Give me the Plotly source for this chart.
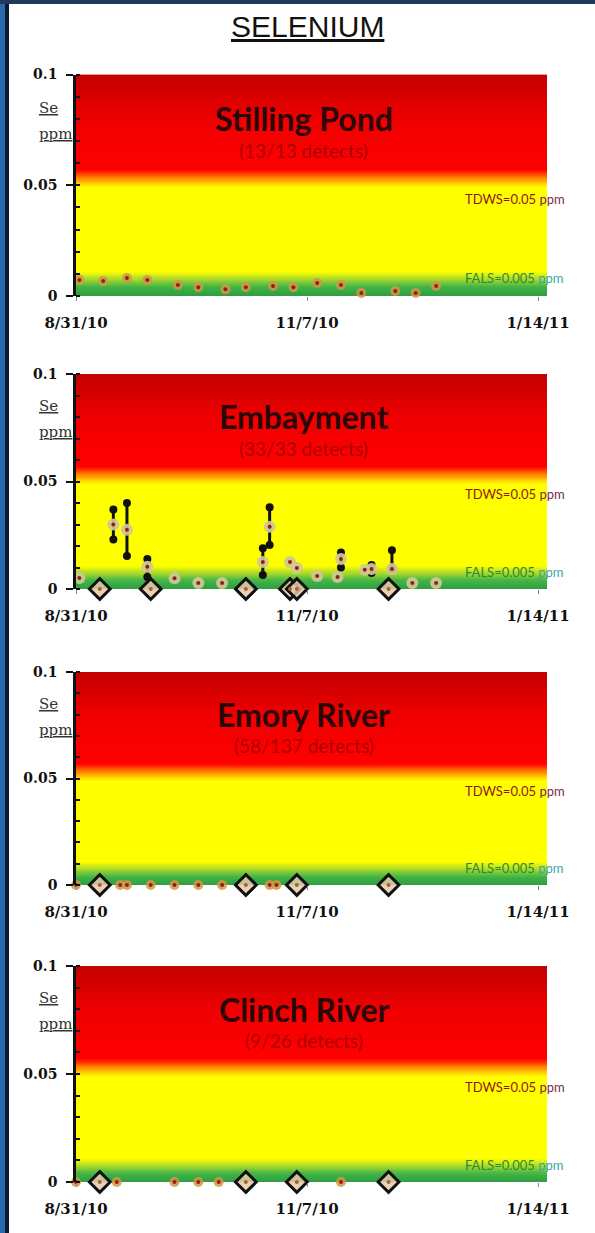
import numpy as np
import plotly.graph_objects as go

# ---- Se results (ppm) by location ----
pond_dates = ['2010-09-01', '2010-09-08', '2010-09-15', '2010-09-21', '2010-09-30', '2010-10-06',
              '2010-10-14', '2010-10-20', '2010-10-28', '2010-11-03', '2010-11-10', '2010-11-17',
              '2010-11-23', '2010-12-03', '2010-12-09', '2010-12-15']
pond_se = [0.0072, 0.0068, 0.0081, 0.0072, 0.0050, 0.0040, 0.0030, 0.0040, 0.0045, 0.0040,
           0.0059, 0.0050, 0.0014, 0.0023, 0.0014, 0.0045]

emb_dates = ['2010-09-01', '2010-09-11', '2010-09-15', '2010-09-21', '2010-09-29', '2010-10-06',
             '2010-10-13', '2010-10-25', '2010-10-27', '2010-11-02', '2010-11-04', '2010-11-10',
             '2010-11-16', '2010-11-17', '2010-11-24', '2010-11-26', '2010-12-02', '2010-12-08',
             '2010-12-15']
emb_se = [0.0051, 0.0300, 0.0276, 0.0103, 0.0050, 0.0028, 0.0028, 0.0126, 0.0290, 0.0126,
          0.0098, 0.0060, 0.0056, 0.0140, 0.0089, 0.0093, 0.0093, 0.0028, 0.0028]
emb_range_dates = ['2010-09-11', '2010-09-15', '2010-09-21', '2010-10-25', '2010-10-27',
                   '2010-11-17', '2010-11-26', '2010-12-02']
emb_min = [0.0230, 0.0154, 0.0056, 0.0065, 0.0205, 0.0100, 0.0075, 0.0093]
emb_max = [0.0370, 0.0400, 0.0140, 0.0190, 0.0380, 0.0170, 0.0112, 0.0180]
emb_nd_dates = ['2010-09-07', '2010-09-22', '2010-10-20', '2010-11-02', '2010-11-04', '2010-12-01']
emb_nd = [0, 0, 0, 0, 0, 0]

emory_dates = ['2010-08-31', '2010-09-13', '2010-09-15', '2010-09-22', '2010-09-29', '2010-10-06',
               '2010-10-13', '2010-10-27', '2010-10-29']
emory_se = [0, 0, 0, 0, 0, 0, 0, 0, 0]
emory_nd_dates = ['2010-09-07', '2010-10-20', '2010-11-04', '2010-12-01']
emory_nd = [0, 0, 0, 0]

clinch_dates = ['2010-08-31', '2010-09-12', '2010-09-29', '2010-10-06', '2010-10-12', '2010-11-17']
clinch_se = [0, 0, 0, 0, 0, 0]
clinch_nd_dates = ['2010-09-07', '2010-10-20', '2010-11-04', '2010-12-01']
clinch_nd = [0, 0, 0, 0]

panel_names = ['Stilling Pond', 'Embayment', 'Emory River', 'Clinch River']
panel_counts = ['(13/13 detects)', '(33/33 detects)', '(58/137 detects)', '(9/26 detects)']

tick_dates = ['2010-08-31', '2010-11-07', '2011-01-14']
tick_text = ['8/31/10', '11/7/10', '1/14/11']

# ---- layout geometry (pixels on a 595 x 1233 page) ----
W, H = 595, 1233
panel_px = [(74.5, 296), (374, 589), (672, 885), (966, 1182)]
x_dom = [76 / W, 547 / W]
x_range = ['2010-08-31', '2011-01-16 15:30']

fig = go.Figure()

# background band: red above the TDWS, yellow between, green toward the FALS
band_stops = [(0.000, '#2e9c40'), (0.004, '#40b446'), (0.0075, '#a8d82c'), (0.011, '#ffff00'),
              (0.049, '#ffff00'), (0.053, '#ff8c00'), (0.057, '#ff0000'), (0.080, '#ef0000'),
              (0.100, '#c20000')]
band_scale = [[v / 0.1, c] for v, c in band_stops]
band_y = np.linspace(0, 0.1, 401)
band_z = [[v, v] for v in band_y]


def add_panel(i, det_dates, det_vals, nd_dates, nd_vals, ring_color, ring_size,
              rng_dates=None, rng_lo=None, rng_hi=None):
    xa = 'x' if i == 0 else f'x{i + 1}'
    ya = 'y' if i == 0 else f'y{i + 1}'
    fig.add_trace(go.Heatmap(x=[x_range[0], x_range[1]], y=band_y, z=band_z, zmin=0, zmax=0.1,
                             colorscale=band_scale, showscale=False, hoverinfo='skip',
                             xaxis=xa, yaxis=ya))
    if rng_dates is not None:
        ex, ey = [], []
        for d, lo, hi in zip(rng_dates, rng_lo, rng_hi):
            ex += [d, d, None]
            ey += [lo, hi, None]
        fig.add_trace(go.Scatter(x=ex, y=ey, mode='lines+markers',
                                 line=dict(color='#111111', width=3),
                                 marker=dict(color='#111111', size=8),
                                 cliponaxis=False, showlegend=False, xaxis=xa, yaxis=ya))
    fig.add_trace(go.Scatter(x=det_dates, y=det_vals, mode='markers',
                             marker=dict(symbol='circle', size=ring_size, color=ring_color,
                                         line=dict(width=0)),
                             cliponaxis=False, showlegend=False, xaxis=xa, yaxis=ya))
    fig.add_trace(go.Scatter(x=det_dates, y=det_vals, mode='markers',
                             marker=dict(symbol='circle', size=4, color='#951e14'),
                             cliponaxis=False, showlegend=False, xaxis=xa, yaxis=ya))
    fig.add_trace(go.Scatter(x=nd_dates, y=nd_vals, mode='markers',
                             marker=dict(symbol='diamond', size=16, color='rgba(232,200,168,0.85)',
                                         line=dict(color='#111111', width=3)),
                             cliponaxis=False, showlegend=False, xaxis=xa, yaxis=ya))
    fig.add_trace(go.Scatter(x=nd_dates, y=nd_vals, mode='markers',
                             marker=dict(symbol='circle', size=4, color='#a0643a'),
                             cliponaxis=False, showlegend=False, xaxis=xa, yaxis=ya))


add_panel(0, pond_dates, pond_se, [], [], 'rgba(208,150,70,0.85)', 10)
add_panel(1, emb_dates, emb_se, emb_nd_dates, emb_nd, 'rgba(206,200,150,0.92)', 12,
          emb_range_dates, emb_min, emb_max)
add_panel(2, emory_dates, emory_se, emory_nd_dates, emory_nd, 'rgba(208,150,70,0.85)', 10)
add_panel(3, clinch_dates, clinch_se, clinch_nd_dates, clinch_nd, 'rgba(208,150,70,0.85)', 10)

layout = dict(
    template='none', autosize=False,
    width=W, height=H, margin=dict(l=0, r=0, t=0, b=0, pad=0),
    paper_bgcolor='white', plot_bgcolor='white', showlegend=False,
    font=dict(family='Lato', color='#111111'),
)
annotations = []
shapes = []

for i, (top, bot) in enumerate(panel_px):
    xk = 'xaxis' if i == 0 else f'xaxis{i + 1}'
    yk = 'yaxis' if i == 0 else f'yaxis{i + 1}'
    xa = 'x' if i == 0 else f'x{i + 1}'
    ya = 'y' if i == 0 else f'y{i + 1}'
    layout[xk] = dict(domain=x_dom, anchor=ya, type='date', range=x_range, automargin=False,
                      tickmode='array', tickvals=tick_dates, ticktext=tick_text,
                      ticks='outside', ticklen=4, tickcolor='#888888', tickwidth=1,
                      showline=False, showgrid=False, zeroline=False,
                      ticklabelstandoff=9,
                      tickfont=dict(family='DejaVu Serif', size=15, color='#111111', weight='bold'))
    layout[yk] = dict(domain=[1 - bot / H, 1 - top / H], anchor=xa, range=[0, 0.1],
                      automargin=False,
                      tickmode='array', tickvals=[0, 0.05, 0.1], ticktext=['0', '0.05', '0.1'],
                      ticks='outside', ticklen=7, tickwidth=2, tickcolor='#111111',
                      minor=dict(ticks='inside', dtick=0.01, ticklen=4, tickwidth=1.5,
                                 tickcolor='#111111', showgrid=False),
                      showline=True, linecolor='#111111', linewidth=2.5,
                      showgrid=False, zeroline=False, ticklabelstandoff=6,
                      tickfont=dict(family='DejaVu Serif', size=14, color='#111111', weight='bold'))
    annotations += [
        dict(x='2010-11-06', y=0.080, xref=xa, yref=ya, text=panel_names[i], showarrow=False,
             yanchor='middle', font=dict(family='Lato', size=32, color='#2a0606', weight='bold')),
        dict(x='2010-11-06', y=0.0655, xref=xa, yref=ya, text=panel_counts[i], showarrow=False,
             yanchor='middle', font=dict(family='Lato', size=19, color='rgba(120,0,0,0.62)')),
        dict(x=37 / W, y=0.0850, xref='paper', yref=ya, text='<u>Se</u>', showarrow=False,
             yanchor='middle', font=dict(family='DejaVu Serif', size=15, color='#333333')),
        dict(x=37 / W, y=0.0730, xref='paper', yref=ya, text='<u>ppm</u>', showarrow=False,
             yanchor='middle', font=dict(family='DejaVu Serif', size=15, color='#333333')),
        dict(x=463 / W, y=0.0440, xref='paper', yref=ya, xanchor='left', yanchor='middle',
             text='TDWS=0.05 <span style="color:#7a2a50">ppm</span>', showarrow=False,
             font=dict(family='Lato', size=13, color='#8e1a14')),
        dict(x=463 / W, y=0.0080, xref='paper', yref=ya, xanchor='left', yanchor='middle',
             text='FALS=0.005 <span style="color:#3aa8a0">ppm</span>', showarrow=False,
             font=dict(family='Lato', size=13, color='#2a8a3a')),
    ]

annotations.append(dict(x=307 / W, y=1 - 26 / H, xref='paper', yref='paper',
                        xanchor='center', yanchor='middle',
                        text='<u>SELENIUM</u>', showarrow=False,
                        font=dict(family='Liberation Sans', size=30, color='#111111')))

# page frame: blue band on the left, dark strip along the top
shapes += [
    dict(type='rect', xref='paper', yref='paper', x0=0, x1=5 / W, y0=0, y1=1,
         fillcolor='#2a68b0', line=dict(width=0), layer='above'),
    dict(type='rect', xref='paper', yref='paper', x0=5 / W, x1=9 / W, y0=0, y1=1,
         fillcolor='#0c1a2e', line=dict(width=0), layer='above'),
    dict(type='rect', xref='paper', yref='paper', x0=0, x1=1, y0=1 - 4 / H, y1=1,
         fillcolor='#1e3a5e', line=dict(width=0), layer='above'),
]

layout['annotations'] = annotations
layout['shapes'] = shapes
fig.update_layout(**layout)
fig.write_html('out.html')
